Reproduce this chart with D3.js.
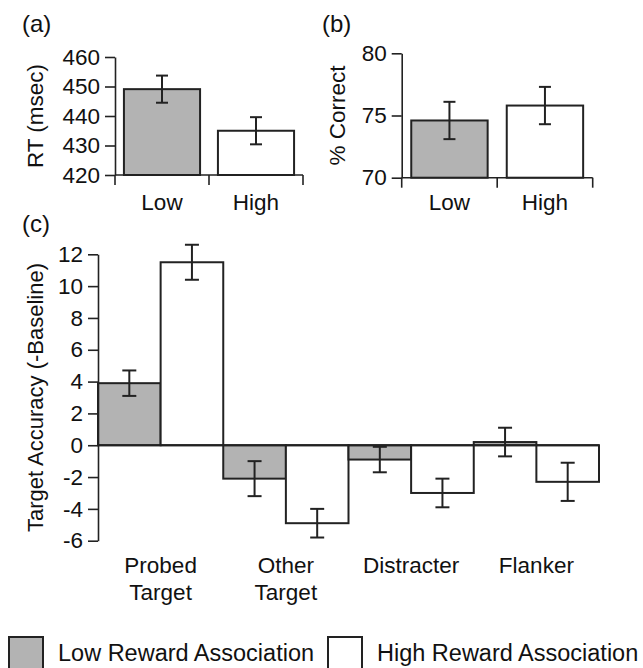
<!DOCTYPE html>
<html>
<head>
<meta charset="utf-8">
<script src="https://cdn.jsdelivr.net/npm/d3@7"></script>
<style>
  body { margin: 0; background: #fff; }
  svg { display: block; font-family: "Liberation Sans", Arial, sans-serif; }
  text { fill: #111; }
</style>
</head>
<body>
<svg width="643" height="668"></svg>
<script>
// panel (a) - reaction time
var rtGroups = ["Low", "High"];
var rtMeans = [449.1, 435.0];
var rtErr = [4.6, 4.6];
var rtTicks = [420, 430, 440, 450, 460];

// panel (b) - percent correct
var pcGroups = ["Low", "High"];
var pcMeans = [74.6, 75.8];
var pcErr = [1.5, 1.5];
var pcTicks = [70, 75, 80];

// panel (c) - target accuracy relative to baseline
var categories = ["Probed Target", "Other Target", "Distracter", "Flanker"];
var categoryLines = [["Probed", "Target"], ["Other", "Target"], ["Distracter"], ["Flanker"]];
var lowMeans = [3.9, -2.1, -0.9, 0.2];
var lowErr = [0.8, 1.1, 0.8, 0.9];
var highMeans = [11.5, -4.9, -3.0, -2.3];
var highErr = [1.1, 0.9, 0.9, 1.2];
var accTicks = [-6, -4, -2, 0, 2, 4, 6, 8, 10, 12];

var series = ["Low Reward Association", "High Reward Association"];
var fills = ["#b3b3b3", "#ffffff"];

var ink = "#222";
var fs = 22.5;
var svg = d3.select("svg");

function styleAxis(g) {
  g.selectAll("path, line").attr("stroke", ink).attr("stroke-width", 1.6);
  g.selectAll("text").attr("font-size", fs).attr("fill", "#111")
    .attr("font-family", '"Liberation Sans", Arial, sans-serif');
}

function errorBar(g, cx, yTop, yBot, cap) {
  g.append("line").attr("x1", cx).attr("x2", cx).attr("y1", yTop).attr("y2", yBot);
  g.append("line").attr("x1", cx - cap / 2).attr("x2", cx + cap / 2).attr("y1", yTop).attr("y2", yTop);
  g.append("line").attr("x1", cx - cap / 2).attr("x2", cx + cap / 2).attr("y1", yBot).attr("y2", yBot);
}

// small two-bar panels (a) and (b)
function smallPanel(opt) {
  var x = d3.scaleBand().domain(opt.groups).range(opt.xr)
    .paddingInner(opt.pad).paddingOuter(opt.pad / 2);
  var y = d3.scaleLinear().domain(opt.domain).range(opt.yr);

  var bars = svg.append("g");
  opt.groups.forEach(function(d, i) {
    bars.append("rect")
      .attr("x", x(d))
      .attr("y", y(opt.means[i]))
      .attr("width", x.bandwidth())
      .attr("height", y(opt.domain[0]) - y(opt.means[i]))
      .attr("fill", fills[i])
      .attr("stroke", ink)
      .attr("stroke-width", 2);
  });

  var eb = svg.append("g").attr("stroke", ink).attr("stroke-width", 2);
  opt.groups.forEach(function(d, i) {
    var cx = x(d) + x.bandwidth() / 2;
    errorBar(eb, cx, y(opt.means[i] + opt.err[i]), y(opt.means[i] - opt.err[i]), 12);
  });

  svg.append("g")
    .attr("transform", "translate(" + opt.xr[0] + ",0)")
    .call(d3.axisLeft(y).tickValues(opt.ticks).tickSize(10).tickPadding(5).tickSizeOuter(0))
    .call(styleAxis);

  // x axis: line with ticks at band boundaries
  var xa = svg.append("g").attr("stroke", ink).attr("stroke-width", 1.6);
  var base = y(opt.domain[0]);
  xa.append("line").attr("x1", opt.xr[0]).attr("x2", opt.xr[1]).attr("y1", base).attr("y2", base);
  d3.range(opt.groups.length + 1).forEach(function(i) {
    var tx = opt.xr[0] + i * x.step();
    xa.append("line").attr("x1", tx).attr("x2", tx).attr("y1", base).attr("y2", base + 10);
  });

  svg.append("g").selectAll("text")
    .data(opt.groups)
    .join("text")
    .attr("x", function(d) { return x(d) + x.bandwidth() / 2; })
    .attr("y", 210)
    .attr("text-anchor", "middle")
    .attr("font-size", fs)
    .text(function(d) { return d; });

  svg.append("text")
    .attr("transform", "translate(" + opt.labelX + "," + ((opt.yr[0] + opt.yr[1]) / 2) + ") rotate(-90)")
    .attr("text-anchor", "middle")
    .attr("font-size", fs)
    .text(opt.label);

  svg.append("text")
    .attr("x", opt.tagX).attr("y", 32)
    .attr("font-size", 24)
    .text(opt.tag);
}

smallPanel({
  groups: rtGroups, means: rtMeans, err: rtErr, ticks: rtTicks,
  domain: [420, 460], xr: [115, 303], yr: [175, 57], pad: 0.19,
  label: "RT (msec)", labelX: 43, tag: "(a)", tagX: 22
});

smallPanel({
  groups: pcGroups, means: pcMeans, err: pcErr, ticks: pcTicks,
  domain: [70, 80], xr: [401.7, 592.7], yr: [177.7, 53.3], pad: 0.2,
  label: "% Correct", labelX: 345, tag: "(b)", tagX: 322
});

// panel (c)
var x0 = d3.scaleBand().domain(categories).range([98, 599]).padding(0);
var x1 = d3.scaleBand().domain(series).range([0, x0.bandwidth()]).padding(0);
var yc = d3.scaleLinear().domain([-6, 12]).range([540.7, 254.3]);

var cg = svg.append("g");
var lowHigh = [
  { means: lowMeans, err: lowErr },
  { means: highMeans, err: highErr }
];

categories.forEach(function(c, i) {
  lowHigh.forEach(function(s, j) {
    var v = s.means[i];
    cg.append("rect")
      .attr("x", x0(c) + x1(series[j]))
      .attr("y", yc(Math.max(0, v)))
      .attr("width", x1.bandwidth())
      .attr("height", Math.abs(yc(v) - yc(0)))
      .attr("fill", fills[j])
      .attr("stroke", ink)
      .attr("stroke-width", 2);
  });
});

var ceb = svg.append("g").attr("stroke", ink).attr("stroke-width", 2);
categories.forEach(function(c, i) {
  lowHigh.forEach(function(s, j) {
    var cx = x0(c) + x1(series[j]) + x1.bandwidth() / 2;
    errorBar(ceb, cx, yc(s.means[i] + s.err[i]), yc(s.means[i] - s.err[i]), 14);
  });
});

// zero line
svg.append("line")
  .attr("x1", 98).attr("x2", 599)
  .attr("y1", yc(0)).attr("y2", yc(0))
  .attr("stroke", ink).attr("stroke-width", 2);

svg.append("g")
  .attr("transform", "translate(98,0)")
  .call(d3.axisLeft(yc).tickValues(accTicks).tickSize(10).tickPadding(5).tickSizeOuter(0)
    .tickFormat(function(d) { return d < 0 ? "-" + Math.abs(d) : d; }))
  .call(styleAxis);

var catText = svg.append("g").selectAll("text")
  .data(categories)
  .join("text")
  .attr("text-anchor", "middle")
  .attr("font-size", fs)
  .attr("x", function(d) { return x0(d) + x0.bandwidth() / 2; })
  .attr("y", 573);
catText.each(function(d, i) {
  var t = d3.select(this);
  categoryLines[i].forEach(function(line, k) {
    t.append("tspan")
      .attr("x", x0(d) + x0.bandwidth() / 2)
      .attr("dy", k === 0 ? 0 : 27)
      .text(line);
  });
});

svg.append("text")
  .attr("transform", "translate(43," + ((254.3 + 540.7) / 2) + ") rotate(-90)")
  .attr("text-anchor", "middle")
  .attr("font-size", 22)
  .text("Target Accuracy (-Baseline)");

svg.append("text")
  .attr("x", 22).attr("y", 232)
  .attr("font-size", 24)
  .text("(c)");

// legend
var legendX = [9, 328];
var legend = svg.append("g");
series.forEach(function(s, i) {
  legend.append("rect")
    .attr("x", legendX[i]).attr("y", 637)
    .attr("width", 34).attr("height", 40)
    .attr("fill", fills[i])
    .attr("stroke", ink)
    .attr("stroke-width", 2);
  legend.append("text")
    .attr("x", legendX[i] + 49).attr("y", 661)
    .attr("font-size", 23.5)
    .text(s);
});
</script>
</body>
</html>
